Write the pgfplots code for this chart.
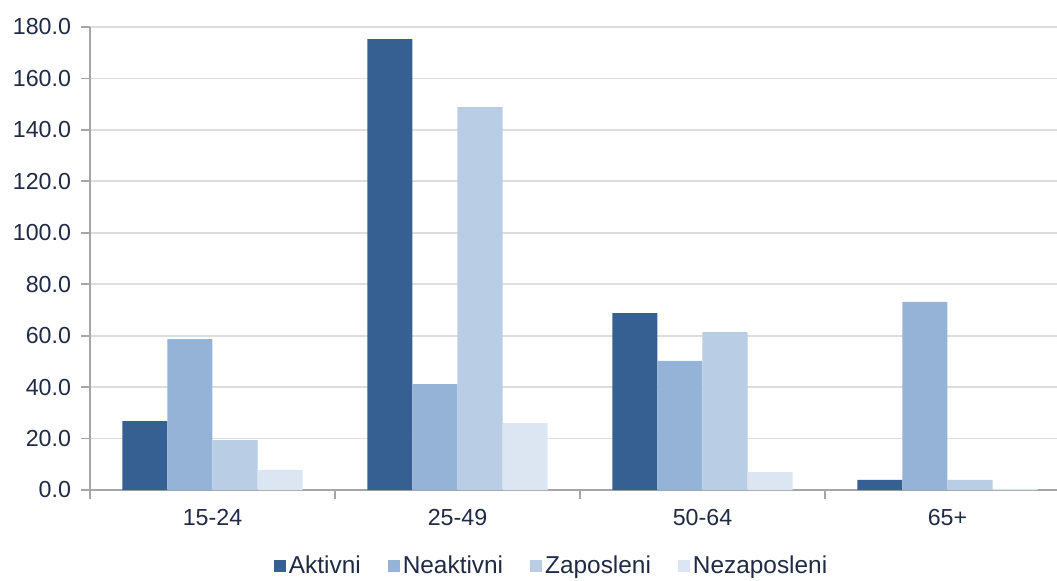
\documentclass[border=0pt]{standalone}
\usepackage{fontspec}
\setmainfont{Liberation Sans}
\usepackage{pgfplots}
\usepackage{pgfplotstable}
\pgfplotsset{compat=1.18}
\definecolor{cA}{HTML}{376092}
\definecolor{cB}{HTML}{95B3D7}
\definecolor{cC}{HTML}{B9CDE5}
\definecolor{cD}{HTML}{DCE6F2}
\definecolor{txt}{HTML}{1F2A44}
\definecolor{gridc}{HTML}{DDDDDD}
\definecolor{axc}{HTML}{A6A6A6}
\pgfplotstableread{
x Aktivni Neaktivni Zaposleni Nezaposleni
0 26.8 58.7 19.4 7.8
1 175.3 41.2 148.9 26.0
2 68.8 50.2 61.4 7.0
3 3.9 73.1 3.9 0.4
}\datatable
\begin{document}
\fontsize{11.5pt}{13.8pt}\selectfont
\begin{tikzpicture}
\path[use as bounding box] (0,0) rectangle (528.5pt,-290pt);
\begin{axis}[
  at={(45pt,-245pt)}, anchor=south west,
  scale only axis, width=490pt, height=231.5pt,
  xmin=-0.5, xmax=3.5, ymin=0, ymax=180,
  ybar=0pt, bar width=0.1837,
  xtick={-0.5,0.5,1.5,2.5,3.5},
  xticklabels={15-24,25-49,50-64,65+},
  x tick label as interval,
  ytick={0,20,...,180},
  yticklabel={\pgfmathprintnumber[fixed,fixed zerofill,precision=1]{\tick}},
  /pgf/number format/assume math mode=true,
  ymajorgrids,
  grid style={draw=gridc, line width=0.9pt},
  axis x line*=bottom, axis y line*=left,
  axis line style={draw=axc, line width=0.9pt},
  tick style={draw=axc, line width=0.9pt},
  tick align=outside,
  major tick length=4.5pt,
  tick label style={text=txt, font=\fontsize{11.6pt}{13.8pt}\selectfont},
  yticklabel style={xshift=-1pt},
  xticklabel style={yshift=-1pt},
  legend columns=4,
  legend style={at={(0.470,-0.164)}, anchor=center, draw=none, fill=none,
    font=\fontsize{12.2pt}{14.4pt}\selectfont, text=txt,
    /tikz/every odd column/.append style={column sep=1.5pt},
    /tikz/every even column/.append style={column sep=13.5pt},
    nodes={inner sep=0pt}},
  legend image code/.code={\fill[#1] (0pt,-3pt) rectangle (6pt,3pt);},
]
\addplot[fill=cA, draw=none] table[x=x, y=Aktivni] {\datatable};
\addplot[fill=cB, draw=none] table[x=x, y=Neaktivni] {\datatable};
\addplot[fill=cC, draw=none] table[x=x, y=Zaposleni] {\datatable};
\addplot[fill=cD, draw=none] table[x=x, y=Nezaposleni] {\datatable};
\legend{Aktivni,Neaktivni,Zaposleni,Nezaposleni}
\end{axis}
\end{tikzpicture}
\end{document}
